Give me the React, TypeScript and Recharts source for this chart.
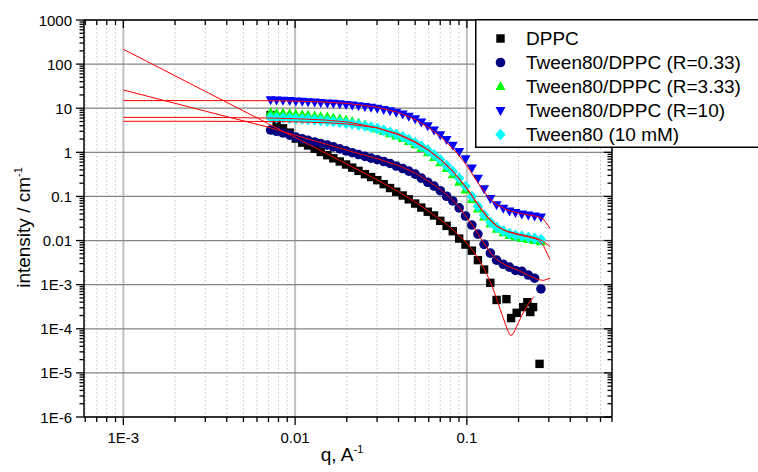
import React from "react";
import {
  ScatterChart,
  Scatter,
  XAxis,
  YAxis,
  CartesianGrid,
  Legend,
  Label,
} from "recharts";

const FONT = '"Liberation Sans", Arial, sans-serif';

// measured q grid, 1/A
const q = [
  0.0072, 0.0078, 0.0085, 0.0093, 0.0101, 0.011, 0.0119, 0.013, 0.0141, 0.0154,
  0.0167, 0.0182, 0.0198, 0.0215, 0.0234, 0.0255, 0.0277, 0.0301, 0.0328, 0.0357,
  0.0388, 0.0423, 0.0459, 0.05, 0.0543, 0.0592, 0.0644, 0.07, 0.0762, 0.0828,
  0.0902, 0.0982, 0.107, 0.116, 0.126, 0.137, 0.149, 0.163, 0.177, 0.192,
  0.209, 0.228, 0.248, 0.27,
];

// DPPC (first 37 q points, then its own noisy tail)
const dppc = [
  7.0, 4.5, 3.5, 2.8, 2.05, 1.66, 1.43, 1.2, 1.02, 0.86,
  0.73, 0.62, 0.53, 0.45, 0.38, 0.32, 0.275, 0.234, 0.19, 0.155,
  0.128, 0.105, 0.086, 0.069, 0.056, 0.045, 0.037, 0.028, 0.0215, 0.0163,
  0.0111, 0.0081, 0.0059, 0.0036, 0.0022, 0.0011, 0.00045,
];
const dppcTailQ = [0.17, 0.181, 0.195, 0.213, 0.225, 0.234, 0.243, 0.265];
const dppcTail = [0.00047, 0.000175, 0.00023, 0.00031, 0.0004, 0.00024, 0.00031, 1.6e-5];

const r033 = [
  3.2, 3.0, 2.75, 2.45, 2.22, 2.02, 1.87, 1.72, 1.59, 1.46,
  1.33, 1.2, 1.08, 0.98, 0.89, 0.81, 0.74, 0.68, 0.62, 0.56,
  0.49, 0.43, 0.375, 0.32, 0.26, 0.21, 0.172, 0.135, 0.101, 0.079,
  0.055, 0.036, 0.0225, 0.014, 0.0082, 0.0052, 0.0036, 0.0029, 0.0025, 0.0021,
  0.002, 0.00165, 0.0014, 0.0008,
];

const r333 = [
  8.0, 7.8, 7.7, 7.5, 7.3, 7.1, 6.9, 6.7, 6.5, 6.3,
  6.0, 5.7, 5.4, 5.0, 4.6, 4.2, 3.8, 3.4, 3.0, 2.65,
  2.35, 2.05, 1.75, 1.48, 1.22, 0.98, 0.76, 0.58, 0.43, 0.31,
  0.21, 0.14, 0.085, 0.052, 0.034, 0.024, 0.018, 0.015, 0.013, 0.012,
  0.0112, 0.0106, 0.01, 0.0094,
];

const r10 = [
  15.5, 15.3, 15.1, 14.9, 14.6, 14.4, 14.1, 13.8, 13.5, 13.2,
  12.9, 12.6, 12.2, 11.8, 11.4, 11.0, 10.5, 10.0, 9.4, 8.8,
  8.1, 7.4, 6.6, 5.8, 4.9, 4.0, 3.2, 2.5, 1.95, 1.45,
  1.05, 0.72, 0.44, 0.26, 0.15, 0.09, 0.065, 0.054, 0.047, 0.043,
  0.04, 0.038, 0.036, 0.034,
];

const tween = [
  6.1, 6.0, 6.0, 5.9, 5.8, 5.7, 5.6, 5.45, 5.3, 5.15,
  5.0, 4.8, 4.6, 4.4, 4.2, 3.95, 3.7, 3.45, 3.15, 2.85,
  2.55, 2.25, 1.95, 1.65, 1.38, 1.12, 0.88, 0.68, 0.5, 0.37,
  0.26, 0.17, 0.1, 0.06, 0.038, 0.026, 0.02, 0.0165, 0.0145, 0.0132,
  0.0125, 0.0118, 0.0112, 0.0105,
];

// model fits (red lines)
const fitQ = [
  0.001, 0.003, 0.007, 0.01, 0.015, 0.02, 0.03, 0.04, 0.05, 0.06,
  0.07, 0.08, 0.09, 0.1, 0.11, 0.12, 0.13, 0.14, 0.15, 0.17,
  0.2, 0.23, 0.26, 0.28, 0.305,
];
const fitR033 = [
  25.9, 8.6, 3.7, 2.45, 1.55, 1.12, 0.72, 0.5, 0.34, 0.22,
  0.145, 0.094, 0.058, 0.033, 0.02, 0.0115, 0.0072, 0.0048, 0.0036, 0.0027,
  0.0021, 0.0016, 0.0013, 0.00125, 0.0014,
];
const fitR333 = [
  6.2, 6.2, 6.0, 5.8, 5.4, 4.9, 3.6, 2.5, 1.68, 1.1,
  0.69, 0.43, 0.255, 0.15, 0.088, 0.054, 0.036, 0.026, 0.021, 0.016,
  0.0135, 0.012, 0.0105, 0.0075, 0.0037,
];
const fitR10 = [
  14.9, 14.9, 14.8, 14.5, 13.8, 12.9, 10.6, 8.0, 5.6, 3.6,
  2.3, 1.4, 0.85, 0.5, 0.28, 0.17, 0.11, 0.08, 0.065, 0.05,
  0.042, 0.038, 0.035, 0.03, 0.019,
];
const fitTween = [
  5.05, 5.05, 5.0, 4.9, 4.7, 4.4, 3.6, 2.6, 1.75, 1.12,
  0.7, 0.43, 0.255, 0.155, 0.09, 0.056, 0.037, 0.027, 0.021, 0.0165,
  0.014, 0.0125, 0.011, 0.0095, 0.0073,
];
const dppcFitQ = [
  0.001, 0.003, 0.007, 0.01, 0.015, 0.02, 0.03, 0.04, 0.05, 0.06,
  0.07, 0.08, 0.09, 0.1, 0.11, 0.12, 0.13, 0.14, 0.15, 0.16,
  0.17, 0.175, 0.18, 0.185, 0.19, 0.2, 0.215, 0.23, 0.245,
];
const dppcFit = [
  217, 24.1, 4.43, 2.17, 0.97, 0.54, 0.24, 0.128, 0.075, 0.046,
  0.03, 0.02, 0.013, 0.0088, 0.0055, 0.0033, 0.0018, 0.00095, 0.00045, 0.00021,
  0.00011, 0.000082, 0.00007, 0.000075, 0.00009, 0.00014, 0.00025, 0.00038, 0.00053,
];

// axes
const xDomain = [5.9e-4, 0.7];
const xMajor = [0.001, 0.01, 0.1];
const xMajorLabels = ["1E-3", "0.01", "0.1"];
const yDomain = [1e-6, 1000];
const yMajor = [1e-6, 1e-5, 1e-4, 1e-3, 0.01, 0.1, 1, 10, 100, 1000];
const yMajorLabels = ["1E-6", "1E-5", "1E-4", "1E-3", "0.01", "0.1", "1", "10", "100", "1000"];
const minorSteps = [2, 3, 4, 5, 6, 7, 8, 9];

const minorsOf = (decades: number[], lo: number, hi: number) =>
  decades
    .flatMap((d) => minorSteps.map((m) => m * d))
    .filter((v) => v >= lo * 0.999 && v <= hi * 1.001);

const xMinor = minorsOf([1e-4, 1e-3, 1e-2, 1e-1], xDomain[0], xDomain[1]);
const yMinor = minorsOf(yMajor.slice(0, -1), yDomain[0], yDomain[1]);
const xTicks = [...xMajor, ...xMinor].sort((a, b) => a - b);
const yTicks = [...yMajor, ...yMinor].sort((a, b) => a - b);

const pts = (xs: number[], ys: number[]) => ys.map((v, i) => ({ q: xs[i], I: v }));

type Kind = "square" | "circle" | "up" | "down" | "diamond";

const series: { name: string; kind: Kind; color: string; data: { q: number; I: number }[] }[] = [
  { name: "DPPC", kind: "square", color: "#000000", data: [...pts(q, dppc), ...pts(dppcTailQ, dppcTail)] },
  { name: "Tween80/DPPC (R=0.33)", kind: "circle", color: "#000080", data: pts(q, r033) },
  { name: "Tween80/DPPC (R=3.33)", kind: "up", color: "#00ff00", data: pts(q, r333) },
  { name: "Tween80/DPPC (R=10)", kind: "down", color: "#0000ff", data: pts(q, r10) },
  { name: "Tween80 (10 mM)", kind: "diamond", color: "#00ffff", data: pts(q, tween) },
];

const fits = [
  pts(dppcFitQ, dppcFit),
  pts(fitQ, fitR033),
  pts(fitQ, fitR333),
  pts(fitQ, fitR10),
  pts(fitQ, fitTween),
];

function marker(kind: Kind, color: string, cx: number, cy: number) {
  if (cx == null || cy == null || isNaN(cx) || isNaN(cy)) return <g />;
  switch (kind) {
    case "square":
      return <rect x={cx - 4.2} y={cy - 4.2} width={8.4} height={8.4} fill={color} />;
    case "circle":
      return <circle cx={cx} cy={cy} r={4.8} fill={color} />;
    case "up":
      return <polygon points={`${cx},${cy - 5.5} ${cx + 5},${cy + 3.5} ${cx - 5},${cy + 3.5}`} fill={color} />;
    case "down":
      return <polygon points={`${cx},${cy + 5.5} ${cx + 5},${cy - 3.5} ${cx - 5},${cy - 3.5}`} fill={color} />;
    default:
      return <polygon points={`${cx},${cy - 5.8} ${cx + 5.2},${cy} ${cx},${cy + 5.8} ${cx - 5.2},${cy}`} fill={color} />;
  }
}

const TICK_W = 1.3;

const BottomTick = ({ x, y, payload }: any) => {
  const i = xMajor.indexOf(payload.value);
  return (
    <g>
      <line x1={x} x2={x} y1={y} y2={y + (i >= 0 ? 8 : 5)} stroke="#000" strokeWidth={TICK_W} />
      {i >= 0 && (
        <text x={x} y={y + 26} textAnchor="middle" fontSize={15} fill="#000" fontFamily={FONT}>
          {xMajorLabels[i]}
        </text>
      )}
    </g>
  );
};

const TopTick = ({ x, y, payload }: any) => {
  const major = xMajor.indexOf(payload.value) >= 0;
  return <line x1={x} x2={x} y1={y} y2={y + (major ? 8 : 5)} stroke="#000" strokeWidth={TICK_W} />;
};

const LeftTick = ({ x, y, payload }: any) => {
  const i = yMajor.indexOf(payload.value);
  return (
    <g>
      <line x1={x - (i >= 0 ? 8 : 4.5)} x2={x} y1={y} y2={y} stroke="#000" strokeWidth={TICK_W} />
      {i >= 0 && (
        <text x={x - 12} y={y + 5.5} textAnchor="end" fontSize={15} fill="#000" fontFamily={FONT}>
          {yMajorLabels[i]}
        </text>
      )}
    </g>
  );
};

const RightTick = ({ x, y, payload }: any) => {
  const major = yMajor.indexOf(payload.value) >= 0;
  return <line x1={x - (major ? 8 : 4.5)} x2={x} y1={y} y2={y} stroke="#000" strokeWidth={TICK_W} />;
};

const YTitle = ({ viewBox }: any) => {
  const cx = (viewBox?.x ?? 24) + 6;
  const cy = (viewBox?.y ?? 20) + (viewBox?.height ?? 397) / 2 + 9;
  return (
    <text x={cx} y={cy} transform={`rotate(-90, ${cx}, ${cy})`} textAnchor="middle" fontSize={19} fill="#000" fontFamily={FONT}>
      intensity / cm
      <tspan dy={-8} fontSize={11}>-1</tspan>
    </text>
  );
};

const XTitle = ({ viewBox }: any) => {
  const cx = (viewBox?.x ?? 84) + (viewBox?.width ?? 528) / 2 - 6;
  const cy = (viewBox?.y ?? 417) + 44;
  return (
    <text x={cx} y={cy} textAnchor="middle" fontSize={19} fill="#000" fontFamily={FONT}>
      q, A
      <tspan dy={-8} fontSize={11}>-1</tspan>
    </text>
  );
};

const LegendBox = () => (
  <svg width={300} height={130} style={{ display: "block" }}>
    <rect x={0.75} y={0.75} width={310} height={127.5} fill="#fff" stroke="#000" strokeWidth={1.5} />
    {series.map((s, i) => (
      <g key={s.name}>
        {marker(s.kind, s.color, 25.5, 19.5 + i * 24)}
        <text x={51} y={19.5 + i * 24 + 6.8} fontSize={19} fill="#000" fontFamily={FONT}>
          {s.name}
        </text>
      </g>
    ))}
  </svg>
);

export default function App() {
  return (
    <div style={{ position: "absolute", left: 0, top: 0, width: 758, height: 472, overflow: "hidden", background: "#fff" }}>
      <ScatterChart
        width={758}
        height={472}
        margin={{ top: 19, right: 145, bottom: 15, left: 24 }}
        style={{ fontFamily: FONT }}
      >
        <CartesianGrid xAxisId="b" yAxisId="l" horizontal={false} verticalValues={xMinor} stroke="#c4c4c4" strokeDasharray="1.5 2.5" />
        <CartesianGrid xAxisId="b" yAxisId="l" horizontal={false} verticalValues={xMajor} stroke="#c0c0c0" strokeWidth={2} />
        <CartesianGrid xAxisId="b" yAxisId="l" vertical={false} horizontalValues={yMajor} stroke="#858585" strokeWidth={1.2} />

        <XAxis
          xAxisId="b"
          type="number"
          dataKey="q"
          scale="log"
          domain={xDomain}
          allowDataOverflow
          ticks={xTicks}
          interval={0}
          height={40}
          tickSize={0}
          tickMargin={0}
          tickLine={false}
          axisLine={{ stroke: "#000", strokeWidth: 1.5 }}
          tick={<BottomTick />}
        >
          <Label content={<XTitle />} />
        </XAxis>
        <XAxis
          xAxisId="t"
          orientation="top"
          type="number"
          dataKey="q"
          scale="log"
          domain={xDomain}
          allowDataOverflow
          ticks={xTicks}
          interval={0}
          height={1}
          tickSize={0}
          tickMargin={0}
          tickLine={false}
          axisLine={{ stroke: "#000", strokeWidth: 1.5 }}
          tick={<TopTick />}
        />
        <YAxis
          yAxisId="l"
          type="number"
          dataKey="I"
          scale="log"
          domain={yDomain}
          allowDataOverflow
          ticks={yTicks}
          interval={0}
          width={60}
          tickSize={0}
          tickMargin={0}
          tickLine={false}
          axisLine={{ stroke: "#000", strokeWidth: 1.5 }}
          tick={<LeftTick />}
        >
          <Label content={<YTitle />} />
        </YAxis>
        <YAxis
          yAxisId="r"
          orientation="right"
          type="number"
          dataKey="I"
          scale="log"
          domain={yDomain}
          allowDataOverflow
          ticks={yTicks}
          interval={0}
          width={1}
          tickSize={0}
          tickMargin={0}
          tickLine={false}
          axisLine={{ stroke: "#000", strokeWidth: 1.5 }}
          tick={<RightTick />}
        />

        {series.map((s) => (
          <Scatter
            key={s.name}
            name={s.name}
            xAxisId="b"
            yAxisId="l"
            data={s.data}
            fill={s.color}
            isAnimationActive={false}
            shape={(p: any) => marker(s.kind, s.color, p.cx, p.cy)}
          />
        ))}
        {fits.map((f, i) => (
          <Scatter
            key={"fit" + i}
            xAxisId="b"
            yAxisId="l"
            data={f}
            fill="#ff0000"
            line={{ stroke: "#ff0000", strokeWidth: 1 }}
            lineType="joint"
            legendType="none"
            isAnimationActive={false}
            shape={() => <g />}
          />
        ))}

        <Legend
          layout="horizontal"
          verticalAlign="middle"
          align="center"
          wrapperStyle={{ left: 475, top: 19, width: 300, height: 130 }}
          content={() => <LegendBox />}
        />
      </ScatterChart>
    </div>
  );
}
